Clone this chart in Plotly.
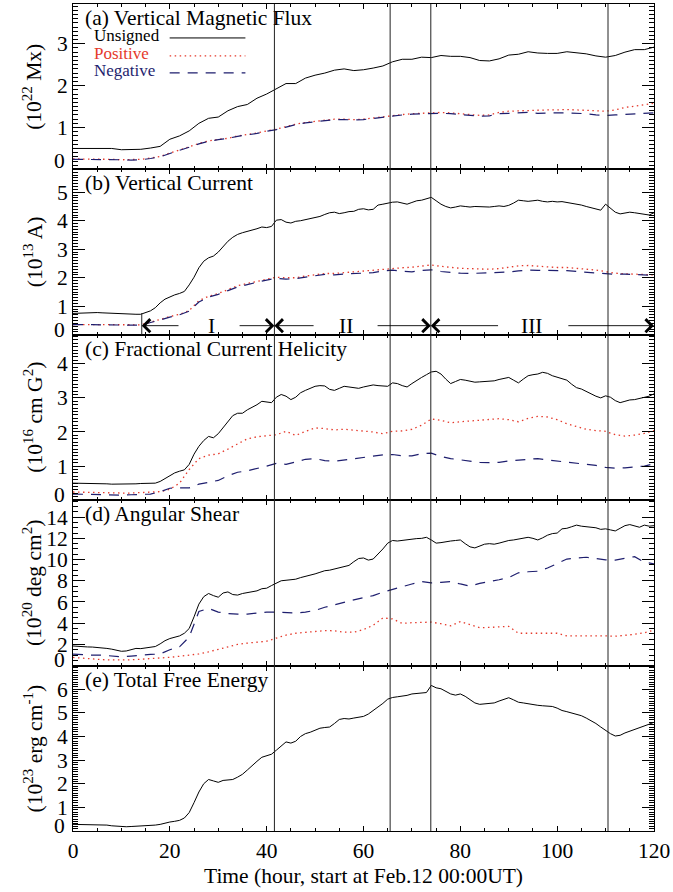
import plotly.graph_objects as go
from plotly.subplots import make_subplots

# ---------------- data ----------------
t_hourly = list(range(0, 121))
t_2h = list(range(0, 121, 2))

flux_unsigned = [0.50,0.50,0.51,0.51,0.50,0.47,0.47,0.48,0.51,0.55,
                 0.72,0.80,0.92,1.10,1.22,1.25,1.40,1.50,1.55,1.70,
                 1.80,1.92,2.05,2.05,2.18,2.25,2.30,2.37,2.40,2.36,
                 2.38,2.42,2.47,2.57,2.63,2.63,2.68,2.67,2.72,2.70,
                 2.70,2.67,2.60,2.59,2.64,2.73,2.75,2.81,2.78,2.77,
                 2.77,2.81,2.78,2.76,2.71,2.68,2.72,2.80,2.86,2.86,
                 2.92]
flux_positive = [0.25,0.25,0.25,0.24,0.24,0.23,0.23,0.24,0.27,0.31,
                 0.39,0.46,0.54,0.62,0.68,0.72,0.74,0.80,0.83,0.87,
                 0.92,0.96,1.02,1.08,1.12,1.15,1.17,1.20,1.20,1.19,
                 1.20,1.23,1.26,1.28,1.31,1.33,1.34,1.35,1.36,1.35,
                 1.33,1.31,1.29,1.30,1.36,1.39,1.40,1.40,1.41,1.42,
                 1.42,1.43,1.42,1.41,1.40,1.39,1.42,1.48,1.51,1.54,
                 1.58]
flux_negative = [0.24,0.24,0.24,0.24,0.23,0.23,0.22,0.23,0.26,0.30,
                 0.38,0.45,0.53,0.61,0.67,0.71,0.74,0.79,0.82,0.86,
                 0.91,0.95,1.01,1.07,1.11,1.14,1.16,1.19,1.19,1.18,
                 1.19,1.22,1.25,1.28,1.30,1.32,1.33,1.34,1.34,1.33,
                 1.31,1.29,1.27,1.28,1.33,1.34,1.35,1.36,1.34,1.35,
                 1.35,1.35,1.34,1.33,1.30,1.29,1.30,1.31,1.33,1.34,
                 1.35]

current_unsigned = [0.75,0.76,0.76,0.77,0.78,0.78,0.77,0.76,0.75,0.75,
                    0.74,0.74,0.73,0.72,0.72,0.78,0.84,0.95,1.12,1.25,
                    1.33,1.40,1.45,1.52,1.75,2.02,2.35,2.58,2.70,2.76,
                    2.90,3.10,3.28,3.42,3.52,3.58,3.62,3.68,3.72,3.78,
                    3.76,3.80,4.02,4.04,3.95,3.92,3.98,4.00,4.04,4.08,
                    4.10,4.15,4.22,4.28,4.30,4.25,4.28,4.32,4.33,4.40,
                    4.42,4.38,4.40,4.55,4.58,4.62,4.65,4.66,4.62,4.58,
                    4.64,4.70,4.72,4.76,4.82,4.70,4.58,4.50,4.45,4.48,
                    4.52,4.50,4.48,4.50,4.49,4.50,4.48,4.50,4.52,4.50,
                    4.54,4.62,4.72,4.70,4.68,4.70,4.72,4.68,4.66,4.68,
                    4.66,4.67,4.64,4.62,4.60,4.55,4.50,4.45,4.40,4.37,
                    4.58,4.45,4.30,4.24,4.28,4.30,4.28,4.25,4.22,4.20,
                    4.28]
current_positive = [0.36,0.36,0.36,0.35,0.35,0.34,0.34,0.35,0.44,0.55,
                    0.64,0.72,0.85,1.20,1.35,1.45,1.58,1.72,1.80,1.88,
                    1.95,2.02,2.00,2.00,2.06,2.10,2.15,2.15,2.18,2.22,
                    2.24,2.27,2.30,2.33,2.35,2.37,2.42,2.45,2.40,2.36,
                    2.33,2.32,2.30,2.30,2.32,2.36,2.42,2.43,2.40,2.38,
                    2.36,2.36,2.34,2.30,2.27,2.22,2.16,2.14,2.13,2.10,
                    2.10]
current_negative = [0.36,0.37,0.36,0.35,0.34,0.35,0.34,0.34,0.42,0.52,
                    0.62,0.70,0.83,1.15,1.32,1.42,1.55,1.68,1.76,1.85,
                    1.92,1.98,1.95,1.97,2.03,2.07,2.12,2.10,2.13,2.15,
                    2.15,2.18,2.24,2.27,2.23,2.21,2.26,2.28,2.22,2.18,
                    2.16,2.15,2.16,2.16,2.18,2.20,2.24,2.27,2.26,2.26,
                    2.27,2.25,2.22,2.20,2.17,2.15,2.12,2.13,2.12,2.10,
                    2.08]

helicity_unsigned = [0.50,0.50,0.50,0.49,0.49,0.49,0.48,0.48,0.47,0.47,
                     0.46,0.46,0.47,0.48,0.49,0.49,0.50,0.50,0.55,0.63,
                     0.72,0.80,0.85,0.89,1.05,1.35,1.58,1.75,1.87,1.83,
                     1.95,2.12,2.30,2.48,2.55,2.55,2.65,2.72,2.80,2.90,
                     2.88,2.86,3.02,3.10,3.05,2.95,3.02,3.15,3.22,3.28,
                     3.34,3.36,3.35,3.25,3.22,3.28,3.34,3.32,3.30,3.28,
                     3.32,3.36,3.38,3.36,3.34,3.34,3.44,3.42,3.36,3.32,
                     3.42,3.52,3.60,3.68,3.76,3.78,3.70,3.55,3.42,3.48,
                     3.54,3.52,3.48,3.46,3.47,3.48,3.50,3.50,3.54,3.58,
                     3.60,3.52,3.44,3.55,3.65,3.68,3.70,3.75,3.72,3.65,
                     3.60,3.57,3.52,3.40,3.30,3.26,3.20,3.12,3.05,3.00,
                     3.06,3.02,2.92,2.86,2.90,2.94,2.95,2.98,3.00,3.05,
                     3.12]
helicity_positive = [0.24,0.23,0.22,0.22,0.21,0.21,0.21,0.22,0.22,0.25,
                     0.32,0.50,0.90,1.22,1.32,1.36,1.50,1.65,1.80,1.86,
                     1.90,1.92,2.02,1.90,2.02,2.12,2.10,2.06,2.08,2.06,
                     2.04,2.00,1.95,2.02,2.03,2.08,2.20,2.38,2.34,2.27,
                     2.30,2.32,2.33,2.36,2.39,2.36,2.30,2.40,2.46,2.44,
                     2.36,2.24,2.15,2.08,2.04,2.02,1.92,1.88,1.91,1.96,
                     2.04]
helicity_negative = [0.18,0.17,0.16,0.16,0.15,0.15,0.16,0.17,0.18,0.25,
                     0.35,0.36,0.36,0.47,0.52,0.58,0.72,0.82,0.86,0.92,
                     1.00,1.08,1.05,1.12,1.20,1.22,1.16,1.14,1.18,1.22,
                     1.24,1.30,1.33,1.34,1.30,1.30,1.36,1.38,1.28,1.22,
                     1.18,1.13,1.11,1.10,1.11,1.15,1.18,1.21,1.22,1.18,
                     1.15,1.12,1.10,1.07,1.02,0.96,0.94,0.95,0.98,1.00,
                     1.07]

shear_unsigned = [1.85,1.80,1.78,1.76,1.75,1.72,1.68,1.62,1.55,1.45,
                  1.35,1.38,1.50,1.62,1.60,1.65,1.72,1.80,2.05,2.35,
                  2.55,2.70,2.80,3.05,3.50,4.60,5.80,6.50,6.80,6.60,
                  6.45,6.85,6.95,6.70,6.65,6.80,6.90,6.95,7.05,7.25,
                  7.30,7.55,7.80,8.00,8.05,8.10,8.15,8.30,8.40,8.50,
                  8.65,8.80,8.95,9.00,9.10,9.25,9.35,9.45,9.80,10.10,
                  10.15,9.95,10.05,10.50,11.00,11.55,11.80,11.75,11.82,11.90,
                  11.95,11.98,12.00,12.10,11.85,11.55,11.60,11.70,11.75,11.80,
                  11.85,11.50,11.20,11.10,11.30,11.45,11.50,11.45,11.55,11.70,
                  11.80,11.85,11.95,12.05,12.10,12.00,11.85,12.05,12.30,12.45,
                  12.50,12.90,12.95,13.10,13.25,13.15,13.10,13.05,13.00,12.85,
                  12.90,12.80,12.70,12.95,13.20,13.30,13.15,13.05,13.25,13.15,
                  13.20]
shear_positive = [0.77,0.68,0.60,0.56,0.53,0.52,0.55,0.60,0.65,0.70,
                  0.78,0.88,1.00,1.10,1.30,1.52,1.80,2.00,2.12,2.22,
                  2.30,2.60,2.88,3.05,3.15,3.25,3.30,3.28,3.15,3.15,
                  3.40,3.80,4.50,4.40,3.98,4.05,4.10,4.10,3.95,3.75,
                  4.15,3.85,3.58,3.60,3.65,3.70,3.05,3.05,3.08,3.10,
                  3.05,2.80,2.80,2.86,2.86,2.80,2.77,2.85,2.95,3.10,
                  3.35]
shear_negative = [1.08,1.00,0.99,0.98,0.90,0.83,0.90,0.99,1.05,1.10,
                  1.50,1.77,2.70,5.10,5.40,5.05,4.90,4.85,4.85,4.95,
                  5.05,5.05,5.00,4.95,5.05,5.20,5.50,5.75,6.00,6.20,
                  6.40,6.60,6.93,7.20,7.40,7.70,7.93,7.80,7.85,7.93,
                  7.70,7.50,7.75,7.90,8.10,8.30,8.75,8.85,8.90,9.20,
                  9.60,10.05,10.15,10.22,10.10,9.97,9.95,10.10,10.28,9.75,
                  9.60]

free_energy = [0.28,0.28,0.28,0.27,0.27,0.26,0.26,0.25,0.22,0.20,
               0.18,0.18,0.19,0.20,0.21,0.22,0.22,0.25,0.28,0.34,
               0.38,0.41,0.45,0.55,0.78,1.20,1.65,2.00,2.18,2.12,
               2.06,2.14,2.16,2.18,2.28,2.40,2.58,2.78,2.95,3.12,
               3.20,3.25,3.42,3.60,3.77,3.72,3.80,4.00,4.12,4.18,
               4.28,4.35,4.38,4.40,4.55,4.72,4.76,4.74,4.78,4.82,
               4.85,4.95,5.10,5.24,5.40,5.58,5.65,5.68,5.70,5.74,
               5.80,5.82,5.84,5.86,6.16,6.06,6.02,5.90,5.80,5.75,
               5.80,5.70,5.55,5.42,5.36,5.38,5.40,5.42,5.50,5.58,
               5.64,5.55,5.45,5.42,5.38,5.35,5.32,5.30,5.28,5.27,
               5.20,5.10,5.05,5.00,4.96,4.88,4.78,4.68,4.55,4.40,
               4.25,4.12,4.02,4.05,4.15,4.22,4.28,4.38,4.45,4.52,
               4.60]

panel_titles = ["(a) Vertical Magnetic Flux", "(b) Vertical Current",
                "(c) Fractional Current Helicity", "(d) Angular Shear",
                "(e) Total Free Energy"]
y_titles = ["(10<sup>22</sup> Mx)", "(10<sup>13</sup> A)",
            "(10<sup>16</sup> cm G<sup>2</sup>)", "(10<sup>20</sup> deg cm<sup>2</sup>)",
            "(10<sup>23</sup> erg cm<sup>-1</sup>)"]
y_ranges = [[0, 3.95], [0, 5.8], [0, 4.85], [0, 15.6], [0, 7.0]]
y_tickvals = [[1, 2, 3], [1, 2, 3, 4, 5], [1, 2, 3, 4],
              [2, 4, 6, 8, 10, 12, 14], [1, 2, 3, 4, 5, 6]]
y_minor = [0.1, 0.1, 0.1, 0.5, 0.1]
x_tickvals = [0, 20, 40, 60, 80, 100, 120]
legend_names = ["Unsigned", "Positive", "Negative"]

event_times = [41.6, 65.5, 73.9, 110.5]
phase_edges = [14.2, 41.6, 73.9, 120.0]
phase_labels = ["I", "II", "III"]
phase_label_x = [28.7, 56.4, 94.8]
phase_gap_left = [22.1, 50.0, 88.1]
phase_gap_right = [34.1, 62.6, 102.0]
phase_arrow_y = 0.32
phase_start_bar_top = 0.76

# ---------------- style ----------------
FONT = "Liberation Serif, Times New Roman, serif"
BLACK = "#000000"
RED = "#e5392b"
NAVY = "#1e1e6e"
FS = 21.5

fig = make_subplots(rows=5, cols=1, shared_xaxes=True, vertical_spacing=0)

def add_three(row, tu, u, tp, p, tn, n):
    fig.add_trace(go.Scatter(x=tu, y=u, mode="lines", line=dict(color=BLACK, width=1),
                             showlegend=False, hoverinfo="skip"), row=row, col=1)
    fig.add_trace(go.Scatter(x=tp, y=p, mode="lines", line=dict(color=RED, width=1.3, dash="1.5px,3.5px"),
                             showlegend=False, hoverinfo="skip"), row=row, col=1)
    fig.add_trace(go.Scatter(x=tn, y=n, mode="lines", line=dict(color=NAVY, width=1.2, dash="10px,8px"),
                             showlegend=False, hoverinfo="skip"), row=row, col=1)

add_three(1, t_2h, flux_unsigned, t_2h, flux_positive, t_2h, flux_negative)
add_three(2, t_hourly, current_unsigned, t_2h, current_positive, t_2h, current_negative)
add_three(3, t_hourly, helicity_unsigned, t_2h, helicity_positive, t_2h, helicity_negative)
add_three(4, t_hourly, shear_unsigned, t_2h, shear_positive, t_2h, shear_negative)
fig.add_trace(go.Scatter(x=t_hourly, y=free_energy, mode="lines", line=dict(color=BLACK, width=1),
                         showlegend=False, hoverinfo="skip"), row=5, col=1)

W, H = 673, 892
ML, MR, MT, MB = 73, 17, 3, 60.5
PW, PH = W - ML - MR, H - MT - MB

for i in range(5):
    row = i + 1
    fig.update_xaxes(row=row, col=1, range=[0, 120], tickvals=x_tickvals,
                     ticks="inside", ticklen=5, tickwidth=1, tickcolor=BLACK,
                     minor=dict(ticks="inside", dtick=5, ticklen=3, tickcolor=BLACK, showgrid=False),
                     showline=True, linecolor=BLACK, linewidth=1, mirror="allticks",
                     showgrid=False, zeroline=False,
                     showticklabels=(row == 5),
                     tickfont=dict(family=FONT, size=FS, color=BLACK))
    fig.update_yaxes(row=row, col=1, range=y_ranges[i], tickvals=y_tickvals[i],
                     ticks="inside", ticklen=12, tickwidth=1, tickcolor=BLACK,
                     minor=dict(ticks="inside", dtick=y_minor[i], ticklen=5, tickcolor=BLACK, showgrid=False),
                     showline=True, linecolor=BLACK, linewidth=1, mirror="allticks",
                     showgrid=False, zeroline=False,
                     tickfont=dict(family=FONT, size=FS, color=BLACK))

annotations = []
shapes = []
zero_shift = [8, 5, 5, 5.5, 5]
for i in range(5):
    yref = "y" if i == 0 else f"y{i+1}"
    dom_top = 1 - i * 0.2
    dom_mid = 1 - i * 0.2 - 0.1
    annotations.append(dict(text=panel_titles[i], xref="paper", yref="paper",
                            x=(82.7 - ML) / PW, y=dom_top - 14 / PH, xanchor="left", yanchor="middle",
                            showarrow=False, font=dict(family=FONT, size=FS, color=BLACK)))
    annotations.append(dict(text=y_titles[i], xref="paper", yref="paper",
                            x=(33 - ML) / PW, y=dom_mid, xanchor="center", yanchor="middle",
                            textangle=-90, showarrow=False, font=dict(family=FONT, size=FS, color=BLACK)))
    annotations.append(dict(text="0", xref="paper", yref=yref, x=(67 - ML) / PW, y=0,
                            xanchor="right", yanchor="middle", yshift=zero_shift[i],
                            showarrow=False, font=dict(family=FONT, size=FS, color=BLACK)))

annotations.append(dict(text="Time (hour, start at Feb.12 00:00UT)", xref="paper", yref="paper",
                        x=0.5, y=1 - (877 - MT) / PH, xanchor="center", yanchor="middle",
                        showarrow=False, font=dict(family=FONT, size=FS, color=BLACK)))

# legend (manual, text left of line sample)
leg_colors = [BLACK, RED, NAVY]
leg_dash = ["solid", "1.5px,3.5px", "10px,8px"]
leg_text_y = [35, 53, 70]
leg_line_y = [37, 55, 72]
for k in range(3):
    annotations.append(dict(text=legend_names[k], xref="paper", yref="paper",
                            x=(92 - ML) / PW, y=1 - (leg_text_y[k] - MT) / PH,
                            xanchor="left", yanchor="middle", showarrow=False,
                            font=dict(family=FONT, size=17, color=leg_colors[k])))
    shapes.append(dict(type="line", xref="paper", yref="paper",
                       x0=(170 - ML) / PW, x1=(246 - ML) / PW,
                       y0=1 - (leg_line_y[k] - MT) / PH, y1=1 - (leg_line_y[k] - MT) / PH,
                       line=dict(color=leg_colors[k], width=1.2 if k else 1, dash=leg_dash[k])))

# event lines through all panels
for te in event_times:
    shapes.append(dict(type="line", xref="x", yref="paper", x0=te, x1=te, y0=0, y1=1,
                       line=dict(color="#222222", width=1)))

# phase annotation in panel (b)
shapes.append(dict(type="line", xref="x2", yref="y2", x0=phase_edges[0], x1=phase_edges[0],
                   y0=0, y1=phase_start_bar_top, line=dict(color="#222222", width=1)))
for k in range(3):
    annotations.append(dict(text=phase_labels[k], xref="x2", yref="y2", x=phase_label_x[k],
                            y=phase_arrow_y, xanchor="center", yanchor="middle", showarrow=False,
                            font=dict(family=FONT, size=FS, color=BLACK)))
    annotations.append(dict(text="", xref="x2", yref="y2", axref="x2", ayref="y2",
                            x=phase_edges[k], y=phase_arrow_y, ax=phase_gap_left[k], ay=phase_arrow_y,
                            showarrow=True, arrowhead=4, arrowsize=2.8, arrowwidth=0.9, arrowcolor=BLACK))
    annotations.append(dict(text="", xref="x2", yref="y2", axref="x2", ayref="y2",
                            x=phase_edges[k + 1], y=phase_arrow_y, ax=phase_gap_right[k], ay=phase_arrow_y,
                            showarrow=True, arrowhead=4, arrowsize=2.8, arrowwidth=0.9, arrowcolor=BLACK))

fig.update_layout(width=W, height=H, margin=dict(l=ML, r=MR, t=MT, b=MB),
                  paper_bgcolor="white", plot_bgcolor="white",
                  font=dict(family=FONT, size=FS, color=BLACK),
                  annotations=annotations, shapes=shapes, showlegend=False)

fig.write_html("out.html", config={"displayModeBar": False},
               post_script="document.body.style.margin='0px';document.body.style.padding='0px';")
